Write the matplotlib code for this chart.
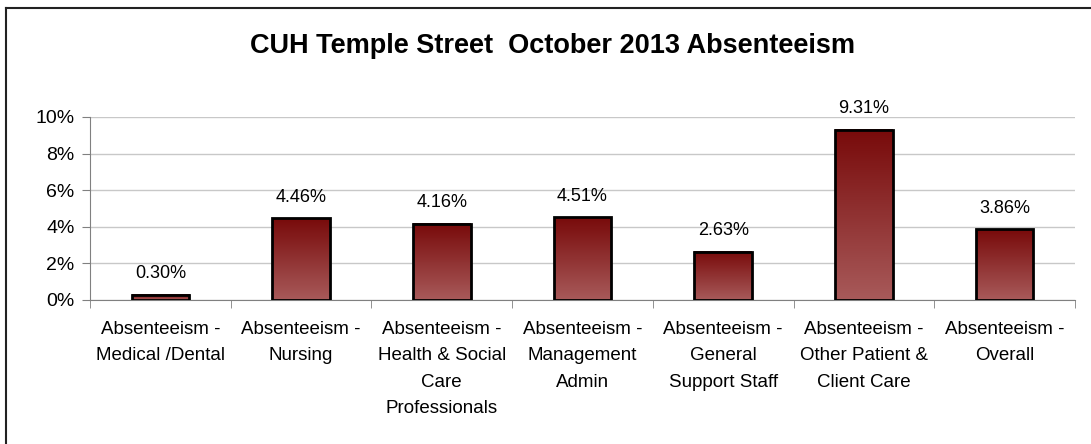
import numpy as np
import matplotlib.pyplot as plt
from matplotlib.colors import LinearSegmentedColormap
from matplotlib.lines import Line2D

plt.rcParams['font.family'] = ['Liberation Sans', 'DejaVu Sans']

# ---------- data ----------
categories = ['Absenteeism -\nMedical /Dental',
              'Absenteeism -\nNursing',
              'Absenteeism -\nHealth & Social\nCare\nProfessionals',
              'Absenteeism -\nManagement\nAdmin',
              'Absenteeism -\nGeneral\nSupport Staff',
              'Absenteeism -\nOther Patient &\nClient Care',
              'Absenteeism -\nOverall']
values = [0.30, 4.46, 4.16, 4.51, 2.63, 9.31, 3.86]
yticks = [0, 2, 4, 6, 8, 10]
title = 'CUH Temple Street  October 2013 Absenteeism'

# ---------- figure ----------
fig = plt.figure(figsize=(10.91, 4.44), dpi=100)
ax = fig.add_axes([90 / 1091, 144 / 444, 985 / 1091, 183 / 444])

barW = 0.41
grad = LinearSegmentedColormap.from_list('g', ['#a85a5a', '#780a0a'])
gimg = np.linspace(0, 1, 256).reshape(-1, 1)

x = np.arange(len(values))
for xi, v in zip(x, values):
    ax.imshow(gimg, cmap=grad, aspect='auto', origin='lower',
              extent=[xi - barW / 2, xi + barW / 2, 0, v], zorder=2)
ax.bar(x, values, width=barW, facecolor='none', edgecolor='black',
       linewidth=2, zorder=3)

for xi, v in zip(x, values):
    ax.annotate('%.2f%%' % v, (xi, v), xytext=(0, 12), textcoords='offset points',
                ha='center', va='baseline', fontsize=13)

ax.set_xlim(-0.5, len(values) - 0.5)
ax.set_ylim(0, 10)
ax.set_yticks(yticks)
ax.set_yticklabels(['%d%%' % t for t in yticks], fontsize=14)
ax.set_xticks(x)
ax.set_xticklabels(categories, fontsize=13.5, linespacing=1.72)
ax.set_xticks(np.arange(-0.5, len(values) - 0.4, 1), minor=True)
ax.tick_params(axis='x', which='major', length=0, pad=15)
ax.tick_params(axis='x', which='minor', length=6, color='#808080')
ax.tick_params(axis='y', length=6, color='#808080', pad=5)

ax.yaxis.grid(True, color='#c8c8c8', linewidth=1, zorder=0)
ax.set_axisbelow(True)
for s in ['top', 'right']:
    ax.spines[s].set_visible(False)
ax.spines['left'].set_color('#808080')
ax.spines['bottom'].set_color('#808080')

fig.text(0.506, 1 - 53 / 444, title, ha='center', va='baseline',
         fontsize=19.5, fontweight='bold')

# outer frame (only left and top visible)
fig.add_artist(Line2D([6 / 1091, 6 / 1091], [0, 1 - 8 / 444], color='#222222', lw=1.5))
fig.add_artist(Line2D([6 / 1091, 1], [1 - 8 / 444, 1 - 8 / 444], color='#222222', lw=1.5))

fig.savefig('out.png', dpi=100)
